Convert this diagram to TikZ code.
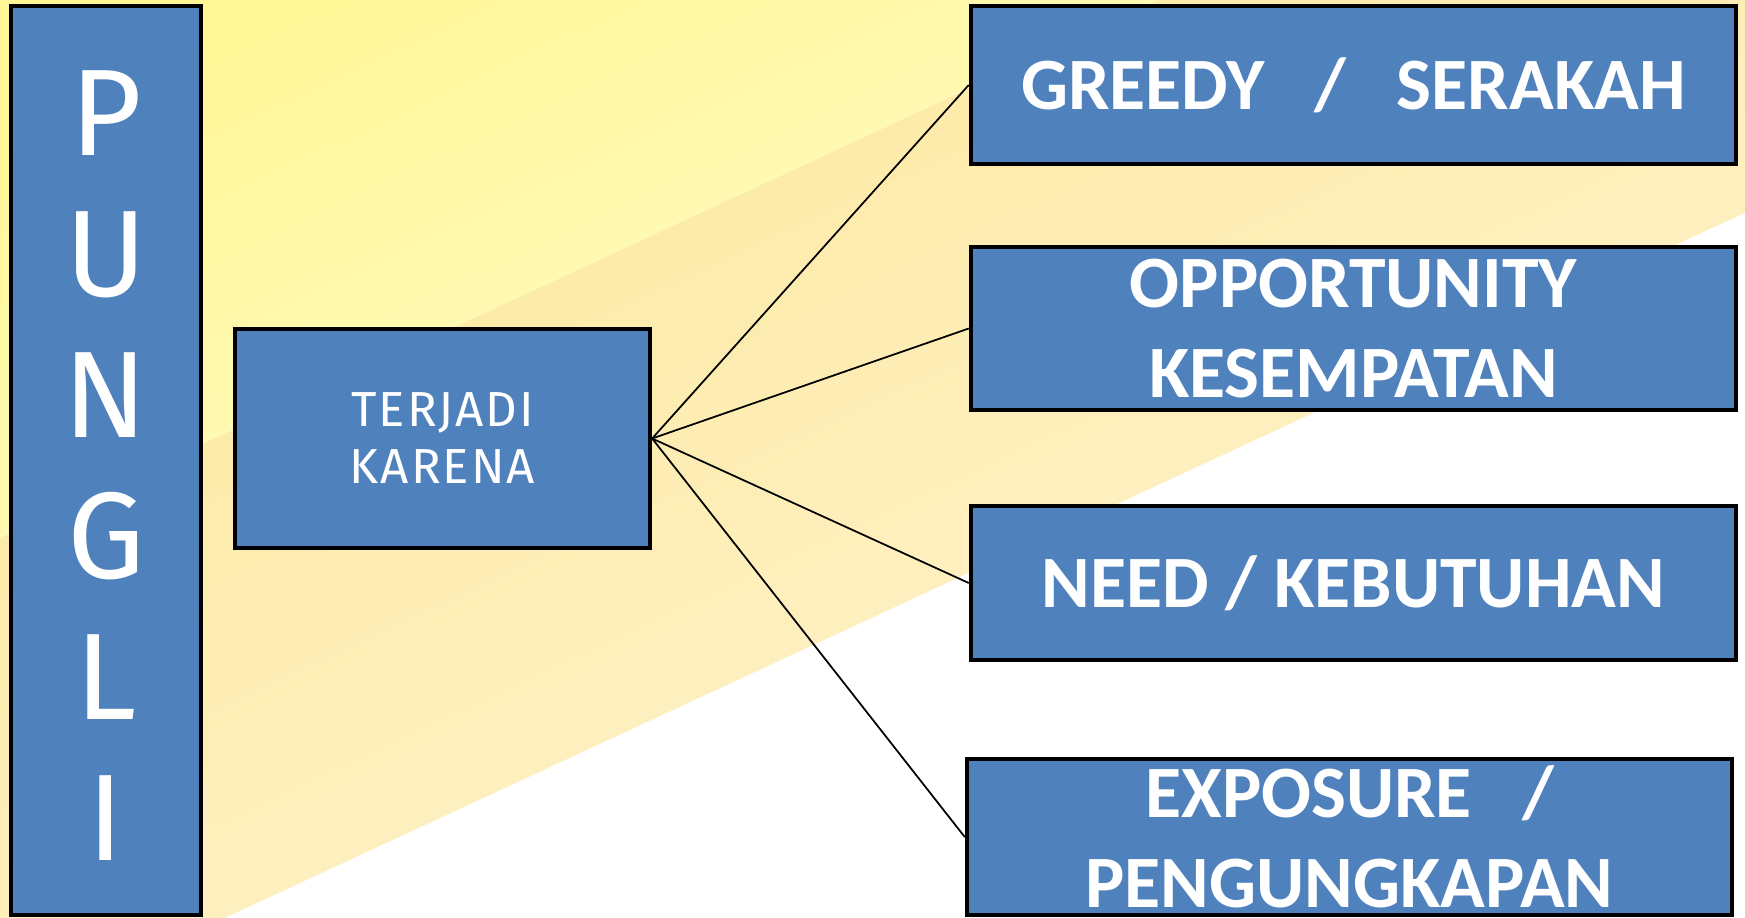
\documentclass[tikz,border=0pt]{standalone}
\usepackage{fontspec}
\newfontfamily\calfont{Carlito}
\newfontfamily\dinfont{Fira Sans}
\newfontfamily\dinwide{Fira Sans}[LetterSpace=4]
\definecolor{cblue}{HTML}{4F81BD}
\definecolor{cyellow}{HTML}{FFF796}
\definecolor{cpale}{HTML}{FFFBCC}
\definecolor{corange}{HTML}{FDE89C}
\definecolor{ccream}{HTML}{FEF4D4}
\tikzset{
  every picture/.style={line width=0.5pt},
  box/.style={draw=black, fill=cblue, line width=1.15pt, text=white, align=center, inner sep=0pt},
  cause/.style={box, minimum width=7.65cm, font=\calfont\bfseries\fontsize{21pt}{25.5pt}\selectfont},
  link/.style={draw=black, line width=0.5pt},
}

\begin{document}
\begin{tikzpicture}[x=0.01cm, y=-0.01cm]
  \useasboundingbox (0,0) rectangle (1745,918);
  \shade[top color=cyellow, bottom color=cpale, shading angle=25] (0,0) -- (1160,0) -- (0,538) -- cycle;
  \shade[top color=corange, bottom color=ccream, shading angle=25] (1160,0) -- (1745,0) -- (1745,213) -- (225,918) -- (0,918) -- (0,538) -- cycle;
  \fill[white] (225,918) -- (1745,213) -- (1745,918) -- cycle;

  \node[box, minimum width=1.90cm, minimum height=9.09cm, font=\dinfont\fontsize{35pt}{40.1pt}\selectfont] (pungli) at (106,460.5) {\rule{0pt}{27pt}P\\U\\N\\G\\L\\I};
  \node[box, minimum width=4.15cm, minimum height=2.19cm, font=\dinwide\fontsize{14pt}{16.2pt}\selectfont] (terjadi) at (442.5,438.5) {TERJADI\\KARENA};
  \node[cause, minimum height=1.58cm] (greedy) at (1353.5,85) {GREEDY~~~/~~~SERAKAH};
  \node[cause, minimum height=1.63cm] (opportunity) at (1353.5,328.5) {OPPORTUNITY\\KESEMPATAN};
  \node[cause, minimum height=1.54cm] (need) at (1353.5,583) {NEED / KEBUTUHAN};
  \node[cause, minimum height=1.56cm] (exposure) at (1349.5,837) {EXPOSURE~~~/\\PENGUNGKAPAN};
  \foreach \n in {greedy, opportunity, need, exposure}
    \draw[link] (terjadi.east) -- (\n.west);
\end{tikzpicture}
\end{document}
